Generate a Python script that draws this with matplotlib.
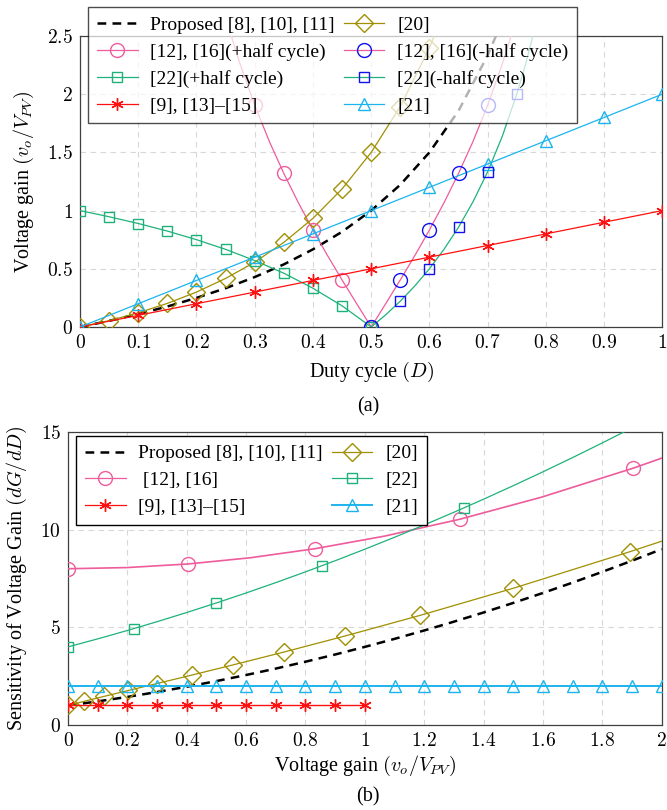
import matplotlib
matplotlib.use("Agg")
import matplotlib.pyplot as plt
from matplotlib.ticker import FuncFormatter, MultipleLocator
from matplotlib.lines import Line2D

plt.rcParams['font.family'] = ['Liberation Serif', 'DejaVu Serif']
plt.rcParams['mathtext.fontset'] = 'cm'
plt.rcParams['font.size'] = 14

# ---------------- Panel (a): voltage gain vs duty cycle ----------------
prop_D = [0, 0.05, 0.1, 0.15, 0.2, 0.25, 0.3, 0.35, 0.4, 0.45, 0.5, 0.55, 0.6, 0.65, 0.7, 0.715]
prop_G = [0, 0.053, 0.111, 0.176, 0.25, 0.333, 0.429, 0.538, 0.667, 0.818, 1.0, 1.222, 1.5, 1.857, 2.333, 2.509]

r20_D = [0, 0.05, 0.1, 0.15, 0.2, 0.25, 0.3, 0.35, 0.4, 0.45, 0.5, 0.55, 0.6, 0.61]
r20_G = [0, 0.055, 0.122, 0.203, 0.3, 0.417, 0.557, 0.727, 0.933, 1.186, 1.5, 1.894, 2.4, 2.518]
r20_mk = 13  # first 13 points carry markers

r12_D = [0.26, 0.275, 0.3, 0.325, 0.35, 0.375, 0.4, 0.425, 0.45, 0.475, 0.5,
         0.525, 0.55, 0.575, 0.6, 0.625, 0.65, 0.675, 0.7, 0.725, 0.74]
r12_G = [2.495, 2.257, 1.905, 1.595, 1.319, 1.067, 0.833, 0.614, 0.404, 0.201, 0.0,
         0.201, 0.404, 0.614, 0.833, 1.067, 1.319, 1.595, 1.905, 2.257, 2.495]
r12p_D = [0.3, 0.35, 0.4, 0.45, 0.5]
r12p_G = [1.905, 1.319, 0.833, 0.404, 0.0]
r12n_D = [0.5, 0.55, 0.6, 0.65, 0.7]
r12n_G = [0.0, 0.404, 0.833, 1.319, 1.905]

r22_D = [0, 0.05, 0.1, 0.15, 0.2, 0.25, 0.3, 0.35, 0.4, 0.45, 0.5,
         0.525, 0.55, 0.575, 0.6, 0.625, 0.65, 0.675, 0.7, 0.725, 0.75, 0.765, 0.778]
r22_G = [1.0, 0.947, 0.889, 0.824, 0.75, 0.667, 0.571, 0.462, 0.333, 0.182, 0.0,
         0.105, 0.222, 0.353, 0.5, 0.667, 0.857, 1.077, 1.333, 1.636, 2.0, 2.255, 2.505]
r22p_D = [0, 0.05, 0.1, 0.15, 0.2, 0.25, 0.3, 0.35, 0.4, 0.45, 0.5]
r22p_G = [1.0, 0.947, 0.889, 0.824, 0.75, 0.667, 0.571, 0.462, 0.333, 0.182, 0.0]
r22n_D = [0.55, 0.6, 0.65, 0.7, 0.75]
r22n_G = [0.222, 0.5, 0.857, 1.333, 2.0]

r9_D = [0, 0.1, 0.2, 0.3, 0.4, 0.5, 0.6, 0.7, 0.8, 0.9, 1.0]
r9_G = [0, 0.1, 0.2, 0.3, 0.4, 0.5, 0.6, 0.7, 0.8, 0.9, 1.0]
r21_D = [0, 0.1, 0.2, 0.3, 0.4, 0.5, 0.6, 0.7, 0.8, 0.9, 1.0]
r21_G = [0, 0.2, 0.4, 0.6, 0.8, 1.0, 1.2, 1.4, 1.6, 1.8, 2.0]

# ---------------- Panel (b): sensitivity vs voltage gain ----------------
bprop_G = [0, 0.1, 0.2, 0.3, 0.4, 0.5, 0.6, 0.7, 0.8, 0.9, 1.0, 1.1, 1.2, 1.3, 1.4, 1.5, 1.6, 1.7, 1.8, 1.9, 2.0]
bprop_S = [1.0, 1.21, 1.44, 1.69, 1.96, 2.25, 2.56, 2.89, 3.24, 3.61, 4.0, 4.41, 4.84, 5.29, 5.76, 6.25, 6.76, 7.29, 7.84, 8.41, 9.0]

b20_G = [0, 0.055, 0.122, 0.203, 0.3, 0.417, 0.557, 0.727, 0.933, 1.186, 1.5, 1.894, 2.0]
b20_S = [1.0, 1.216, 1.469, 1.768, 2.125, 2.556, 3.082, 3.734, 4.556, 5.612, 7.0, 8.877, 9.41]

b12_G = [0, 0.2, 0.404, 0.614, 0.833, 1.067, 1.319, 1.595, 1.905, 2.0]
b12_S = [8.0, 8.06, 8.244, 8.561, 9.028, 9.671, 10.53, 11.662, 13.152, 13.66]
b12m_G = [0, 0.404, 0.833, 1.319, 1.905]
b12m_S = [8.0, 8.244, 9.028, 10.53, 13.152]

b22_G = [0, 0.1, 0.2, 0.3, 0.4, 0.5, 0.6, 0.7, 0.8, 0.9, 1.0, 1.1, 1.2, 1.3, 1.4, 1.5, 1.6, 1.7, 1.8, 1.9]
b22_S = [4.0, 4.41, 4.84, 5.29, 5.76, 6.25, 6.76, 7.29, 7.84, 8.41, 9.0, 9.61, 10.24, 10.89, 11.56, 12.25, 12.96, 13.69, 14.44, 15.21]
b22m_G = [0, 0.222, 0.5, 0.857, 1.333]
b22m_S = [4.0, 4.938, 6.25, 8.16, 11.11]

b21_G = [0, 0.1, 0.2, 0.3, 0.4, 0.5, 0.6, 0.7, 0.8, 0.9, 1.0, 1.1, 1.2, 1.3, 1.4, 1.5, 1.6, 1.7, 1.8, 1.9, 2.0]
b21_S = [2.0] * 21
b9_G = [0, 0.1, 0.2, 0.3, 0.4, 0.5, 0.6, 0.7, 0.8, 0.9, 1.0]
b9_S = [1.0] * 11

C_PINK = '#EE5C9C'
C_GREEN = '#1EB27A'
C_OLIVE = '#A08F00'
C_RED = '#FF1010'
C_CYAN = '#1CB4EE'
C_BLUE = '#1010F0'
STAR = (6, 2, 0)

fig = plt.figure(figsize=(6.67, 8.10), dpi=100)
ax1 = fig.add_axes([0.120, 0.5963, 0.873, 0.3593])
ax2 = fig.add_axes([0.102, 0.1049, 0.890, 0.3618])

math_fmt = FuncFormatter(lambda v, p: '$%g$' % round(v, 3))

def style(ax):
    for s in ax.spines.values():
        s.set_color('#404040')
        s.set_linewidth(0.9)
    ax.grid(True, color='#D8D8D8', linestyle=(0, (5, 4)), linewidth=0.8)
    ax.set_axisbelow(True)
    ax.tick_params(length=0, pad=5, labelsize=14)
    ax.xaxis.set_major_formatter(math_fmt)
    ax.yaxis.set_major_formatter(math_fmt)

def h(color, marker=None, ls='-', lw=0.9, mec=None, ms=9, mfc='none'):
    return Line2D([], [], color=color, ls=ls, lw=lw, marker=marker, ms=ms,
                  mfc=mfc, mec=mec if mec else color, mew=1.0)

LEG_KW = dict(ncol=2, loc='upper left', fontsize=14, frameon=True, fancybox=False,
              edgecolor='black', handlelength=2.1, handletextpad=0.65,
              columnspacing=0.45, labelspacing=0.47, borderpad=0.45, borderaxespad=0.0)

# ---- Panel (a)
style(ax1)
ax1.plot(prop_D, prop_G, color='black', lw=1.8, ls=(0, (3.5, 2.5)), zorder=3)
ax1.plot(r20_D, r20_G, color=C_OLIVE, lw=0.9, zorder=3)
ax1.plot(r20_D[:r20_mk], r20_G[:r20_mk], ls='none', marker='D', ms=9, mfc='none',
         mec=C_OLIVE, mew=1.0, zorder=4)
ax1.plot(r12_D, r12_G, color=C_PINK, lw=0.9, zorder=3)
ax1.plot(r12p_D, r12p_G, ls='none', marker='o', ms=10, mfc='none', mec=C_PINK, mew=1.0, zorder=4)
ax1.plot(r12n_D, r12n_G, ls='none', marker='o', ms=10, mfc='none', mec=C_BLUE, mew=1.0, zorder=5)
ax1.plot(r22_D, r22_G, color=C_GREEN, lw=0.9, zorder=3)
ax1.plot(r22p_D, r22p_G, ls='none', marker='s', ms=7, mfc='none', mec=C_GREEN, mew=1.0, zorder=4)
ax1.plot(r22n_D, r22n_G, ls='none', marker='s', ms=7, mfc='none', mec=C_BLUE, mew=1.0, zorder=5)
ax1.plot(r9_D, r9_G, color=C_RED, lw=0.9, marker=STAR, ms=9, mew=1.0, zorder=4)
ax1.plot(r21_D, r21_G, color=C_CYAN, lw=0.9, marker='^', ms=8, mfc='none', mec=C_CYAN, mew=1.0, zorder=4)

ax1.set_xlim(0, 1)
ax1.set_ylim(0, 2.5)
ax1.xaxis.set_major_locator(MultipleLocator(0.1))
ax1.yaxis.set_major_locator(MultipleLocator(0.5))
ax1.set_xlabel('Duty cycle $(D)$', fontsize=14.5, labelpad=6)
ax1.set_ylabel('Voltage gain $(v_o/V_{PV})$', fontsize=14.5, labelpad=8)

hA = [h('black', ls=(0, (3.5, 2.5)), lw=1.8),
      h(C_PINK, 'o', mec=C_PINK, ms=10),
      h(C_GREEN, 's', mec=C_GREEN, ms=7),
      h(C_RED, STAR, mfc=C_RED, ms=9),
      h(C_OLIVE, 'D', ms=9),
      h(C_PINK, 'o', mec=C_BLUE, ms=10),
      h(C_GREEN, 's', mec=C_BLUE, ms=7),
      h(C_CYAN, '^', ms=8)]
lA = ['Proposed [8], [10], [11]', '[12], [16](+half cycle)', '[22](+half cycle)',
      '[9], [13]\u2013[15]', '[20]', '[12], [16](-half cycle)', '[22](-half cycle)', '[21]']
legA = ax1.legend(hA, lA, bbox_to_anchor=(0.0137, 1.0986), framealpha=0.7, **LEG_KW)
legA.get_frame().set_linewidth(1.0)
legA.set_zorder(10)

# ---- Panel (b)
style(ax2)
ax2.plot(bprop_G, bprop_S, color='black', lw=1.8, ls=(0, (3.5, 2.5)), zorder=3)
ax2.plot(b20_G, b20_S, color=C_OLIVE, lw=0.9, zorder=3)
ax2.plot(b20_G[:-1], b20_S[:-1], ls='none', marker='D', ms=9, mfc='none', mec=C_OLIVE, mew=1.0, zorder=4)
ax2.plot(b12_G, b12_S, color=C_PINK, lw=1.2, zorder=3)
ax2.plot(b12m_G, b12m_S, ls='none', marker='o', ms=10, mfc='none', mec=C_PINK, mew=1.0, zorder=4)
ax2.plot(b22_G, b22_S, color=C_GREEN, lw=0.9, zorder=3)
ax2.plot(b22m_G, b22m_S, ls='none', marker='s', ms=7, mfc='none', mec=C_GREEN, mew=1.0, zorder=4)
ax2.plot(b21_G, b21_S, color=C_CYAN, lw=1.4, marker='^', ms=8, mfc='none', mec=C_CYAN, mew=1.0, zorder=4)
ax2.plot(b9_G, b9_S, color=C_RED, lw=1.0, marker=STAR, ms=9, mew=1.0, zorder=4)

ax2.set_xlim(0, 2)
ax2.set_ylim(0, 15)
ax2.xaxis.set_major_locator(MultipleLocator(0.2))
ax2.yaxis.set_major_locator(MultipleLocator(5))
ax2.set_xlabel('Voltage gain $(v_o/V_{PV})$', fontsize=14.5, labelpad=3)
ax2.set_ylabel('Sensitivity of Voltage Gain $(dG/dD)$', fontsize=14.5, labelpad=8)

hB = [h('black', ls=(0, (3.5, 2.5)), lw=1.8),
      h(C_PINK, 'o', ms=10),
      h(C_RED, STAR, mfc=C_RED, ms=9),
      h(C_OLIVE, 'D', ms=9),
      h(C_GREEN, 's', ms=7),
      h(C_CYAN, '^', ms=8, lw=1.4)]
lB = ['Proposed [8], [10], [11]', ' [12], [16]', '[9], [13]\u2013[15]', '[20]', '[22]', '[21]']
legB = ax2.legend(hB, lB, bbox_to_anchor=(0.0134, 0.986), framealpha=1.0, **LEG_KW)
legB.get_frame().set_linewidth(1.0)
legB.set_zorder(10)

fig.text(0.552, 0.498, '(a)', ha='center', va='center', fontsize=14.5)
fig.text(0.552, 0.016, '(b)', ha='center', va='center', fontsize=14.5)

fig.savefig('out.png', dpi=100)
